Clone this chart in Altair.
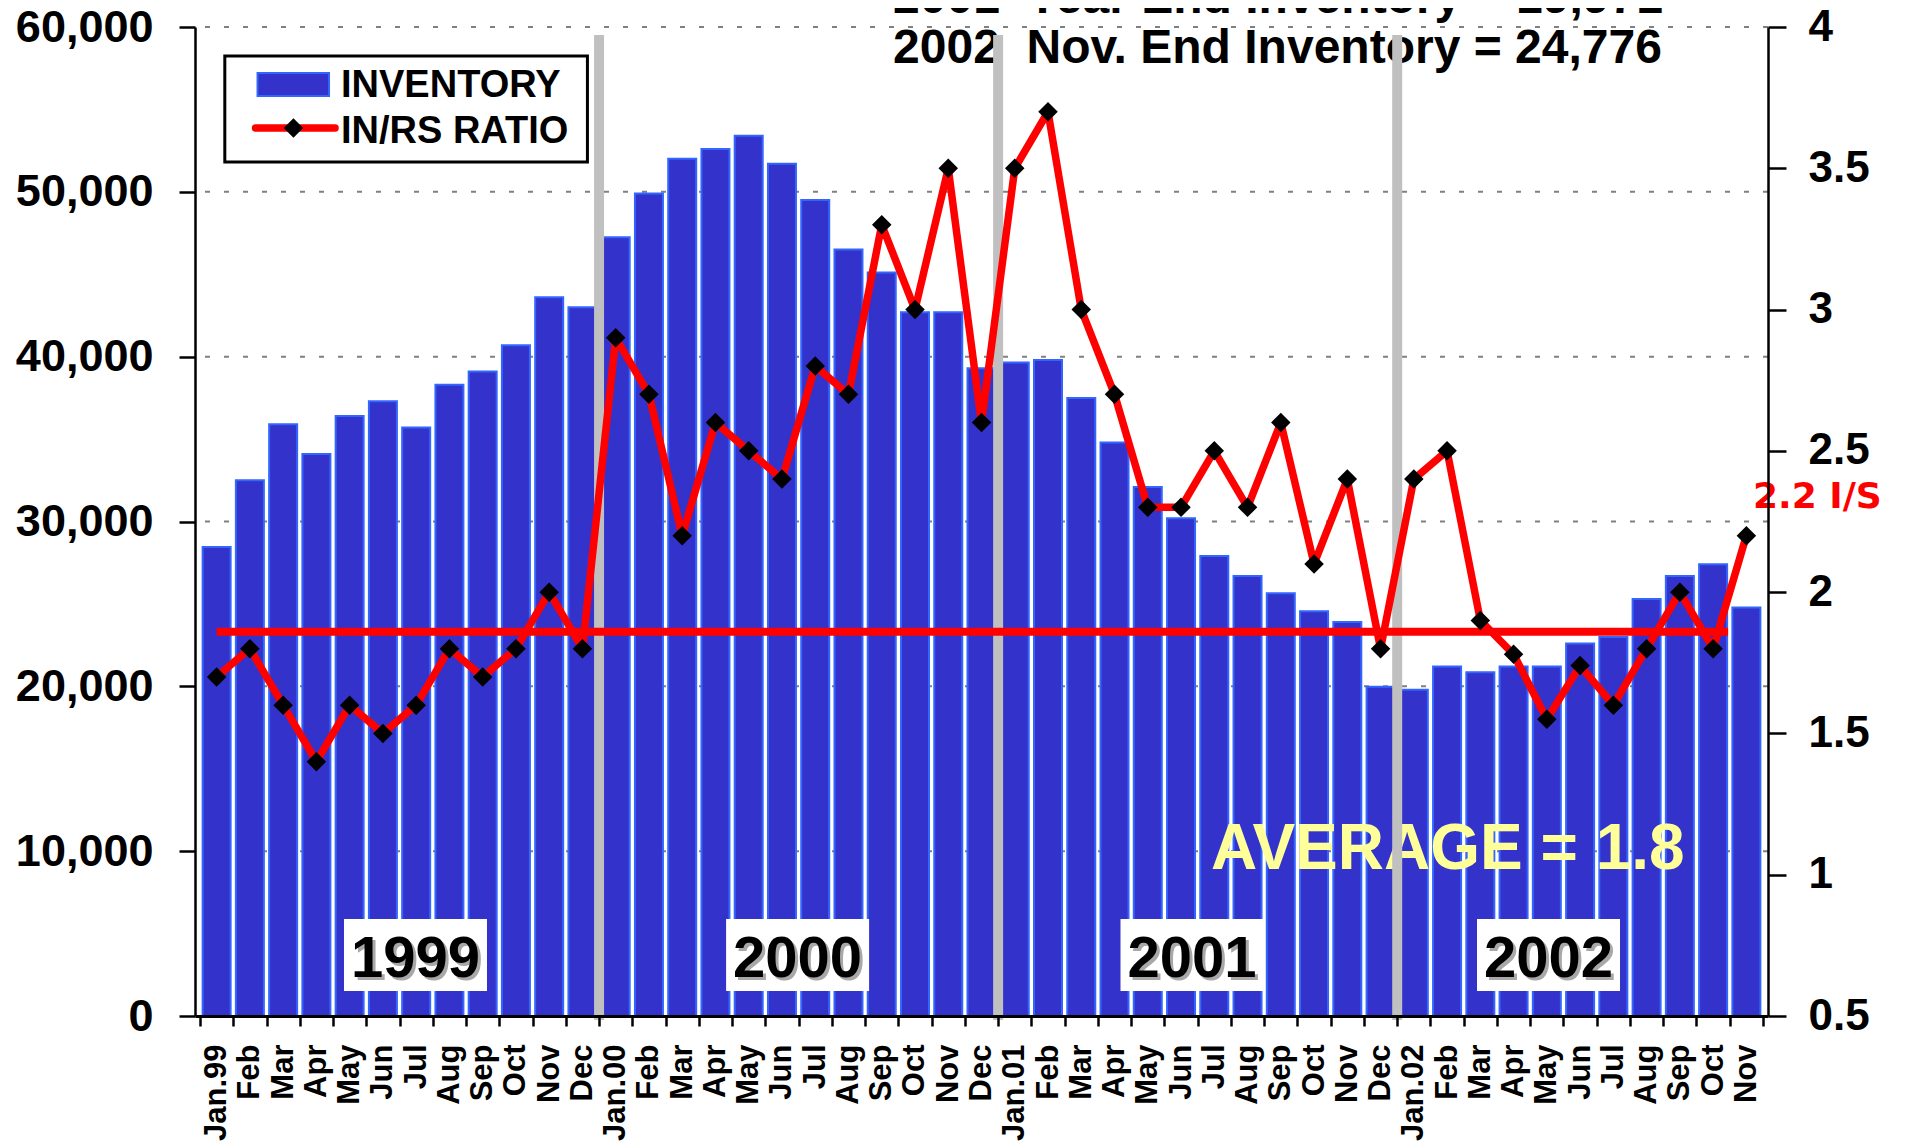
import json
import altair as alt
import pandas as pd

# ---------------- data ----------------
MONTHS = [
    "Jan.99", "Feb", "Mar", "Apr", "May", "Jun", "Jul", "Aug", "Sep", "Oct", "Nov", "Dec",
    "Jan.00", "Feb", "Mar", "Apr", "May", "Jun", "Jul", "Aug", "Sep", "Oct", "Nov", "Dec",
    "Jan.01", "Feb", "Mar", "Apr", "May", "Jun", "Jul", "Aug", "Sep", "Oct", "Nov", "Dec",
    "Jan.02", "Feb", "Mar", "Apr", "May", "Jun", "Jul", "Aug", "Sep", "Oct", "Nov",
]
INVENTORY = [
    28450, 32500, 35900, 34100, 36400, 37300, 35700, 38300, 39100, 40700, 43600, 43000,
    47250, 49900, 52000, 52600, 53400, 51700, 49500, 46500, 45100, 42700, 42700, 39300,
    39650, 39800, 37500, 34800, 32100, 30200, 27900, 26700, 25650, 24550, 23900, 19971,
    19800, 21200, 20850, 21200, 21200, 22600, 23000, 25300, 26700, 27400, 24776,
]
RATIO = [
    1.7, 1.8, 1.6, 1.4, 1.6, 1.5, 1.6, 1.8, 1.7, 1.8, 2.0, 1.8,
    2.9, 2.7, 2.2, 2.6, 2.5, 2.4, 2.8, 2.7, 3.3, 3.0, 3.5, 2.6,
    3.5, 3.7, 3.0, 2.7, 2.3, 2.3, 2.5, 2.3, 2.6, 2.1, 2.4, 1.8,
    2.4, 2.5, 1.9, 1.78, 1.55, 1.74, 1.6, 1.8, 2.0, 1.8, 2.2,
]
AVERAGE_RATIO = 1.86
YEARS = ["1999", "2000", "2001", "2002"]
YEAR_LABEL_CENTERS = [5.98, 17.47, 29.33, 40.05]
YEAR_BREAKS = [11.5, 23.5, 35.5]
INV_TICKS = [0, 10000, 20000, 30000, 40000, 50000, 60000]
RATIO_TICKS = [0.5, 1, 1.5, 2, 2.5, 3, 3.5, 4]
HEADLINES = ["2001\u00a0\u00a0Year End Inventory = 19,971",
             "2002\u00a0\u00a0Nov. End Inventory = 24,776"]
LEGEND_LABELS = ["INVENTORY", "IN/RS RATIO"]

FONT = "Liberation Sans"
BAR_FILL = "#3333CC"
BAR_EDGE = "#3366FF"
RED = "#FF0000"

df = pd.DataFrame({"idx": list(range(len(MONTHS))), "month": MONTHS,
                   "inventory": INVENTORY, "ratio": RATIO})

xscale = alt.Scale(domain=[-0.5, len(MONTHS) - 0.5], nice=False, zero=False)
yinv = alt.Scale(domain=[0, 60000], nice=False, zero=False)
yrat = alt.Scale(domain=[0.5, 4], nice=False, zero=False)

x_values = [i / 2 - 0.5 for i in range(2 * len(MONTHS) + 1)]
x_axis = alt.Axis(
    values=x_values,
    labelExpr="datum.value % 1 === 0 ? " + json.dumps(MONTHS) + "[datum.value] : ''",
    labelAngle=270, labelFont=FONT, labelFontSize=31, labelFontWeight="bold",
    labelColor="black", labelPadding=18, labelOverlap=False, labelFlush=False,
    labelBound=False,
    tickSize=10, tickWidth=2.5, tickColor="black",
    tickOpacity={"condition": {"test": "datum.value % 1 !== 0", "value": 1}, "value": 0},
    domainColor="black", domainWidth=3, grid=False, title=None, zindex=1,
)
left_axis = alt.Axis(
    values=INV_TICKS, format=",.0f", orient="left",
    labelFont=FONT, labelFontSize=45, labelFontWeight="bold", labelColor="black",
    labelPadding=26, labelFlush=False,
    tickSize=16, tickWidth=2.5, tickColor="black",
    domainColor="black", domainWidth=2.5, grid=False, title=None, zindex=1,
)
right_axis = alt.Axis(
    values=RATIO_TICKS, format="~g", orient="right",
    labelFont=FONT, labelFontSize=44, labelFontWeight="bold", labelColor="black",
    labelPadding=22, labelFlush=False,
    tickSize=18, tickWidth=2.5, tickColor="black",
    domainColor="black", domainWidth=2.5, grid=False, title=None, zindex=1,
)


def X(field):
    return alt.X(field, type="quantitative", scale=xscale, axis=x_axis)


def YI(field, axis=None):
    return alt.Y(field, type="quantitative", scale=yinv, axis=axis)


def YR(field, axis=None):
    return alt.Y(field, type="quantitative", scale=yrat, axis=axis)


# gridlines (dotted) at the inventory ticks
grid = alt.Chart(pd.DataFrame({"v": INV_TICKS[1:]})).mark_rule(
    color="#808080", strokeWidth=2, strokeDash=[5, 14]
).encode(y=YI("v"))

bars = alt.Chart(df).mark_bar(size=28, fill=BAR_FILL, stroke=BAR_EDGE, strokeWidth=2).encode(
    x=X("idx"), y=YI("inventory", left_axis)
)

avg_text = alt.Chart(pd.DataFrame({"x": [29.9], "y": [8918], "t": ["AVERAGE = 1.8"]})).mark_text(
    align="left", baseline="alphabetic", font=FONT, fontSize=64, fontWeight="bold", color="#FFFF99"
).encode(x=X("x"), y=YI("y"), text="t:N")

head_text = alt.Chart(pd.DataFrame({"x": [20.34, 20.34], "y": [60849, 57816], "t": HEADLINES})).mark_text(
    align="left", baseline="alphabetic", font=FONT, fontSize=48, fontWeight="bold", color="black"
).encode(x=X("x"), y=YI("y"), text="t:N")

breaks = alt.Chart(pd.DataFrame({"x": YEAR_BREAKS, "top": [59515] * 3, "bot": [-243] * 3})).mark_rule(
    color="#C0C0C0", strokeWidth=10
).encode(x=X("x"), y=YI("top"), y2="bot:Q")

avg_rule = alt.Chart(pd.DataFrame({"x": [0], "x2": [45.45], "y": [AVERAGE_RATIO]})).mark_rule(
    color=RED, strokeWidth=8
).encode(x=X("x"), x2="x2:Q", y=YR("y"))

line = alt.Chart(df).mark_line(color=RED, strokeWidth=7.5, strokeJoin="round").encode(
    x=X("idx"), y=YR("ratio", right_axis)
)
points = alt.Chart(df).mark_point(shape="diamond", filled=True, color="black", size=380, opacity=1).encode(
    x=X("idx"), y=YR("ratio")
)

# legend
leg_box = alt.Chart(pd.DataFrame({"x": [0.246], "x2": [11.15], "y": [51810], "y2": [58240]})).mark_rect(
    fill="white", stroke="black", strokeWidth=3
).encode(x=X("x"), x2="x2:Q", y=YI("y"), y2="y2:Q")
leg_swatch = alt.Chart(pd.DataFrame({"x": [1.23], "x2": [3.38], "y": [55815], "y2": [57210]})).mark_rect(
    fill=BAR_FILL, stroke=BAR_EDGE, strokeWidth=2
).encode(x=X("x"), x2="x2:Q", y=YI("y"), y2="y2:Q")
leg_line = alt.Chart(pd.DataFrame({"x": [1.17], "x2": [3.56], "y": [53873]})).mark_rule(
    color=RED, strokeWidth=7.5, strokeCap="round"
).encode(x=X("x"), x2="x2:Q", y=YI("y"))
leg_diamond = alt.Chart(pd.DataFrame({"x": [2.31], "y": [53873]})).mark_point(
    shape="diamond", filled=True, color="black", size=380, opacity=1
).encode(x=X("x"), y=YI("y"))
leg_text = alt.Chart(pd.DataFrame({"x": [3.74, 3.74], "y": [55754, 52963], "t": LEGEND_LABELS})).mark_text(
    align="left", baseline="alphabetic", font=FONT, fontSize=38, fontWeight="bold", color="black"
).encode(x=X("x"), y=YI("y"), text="t:N")

# year labels
ydf = pd.DataFrame({"c": YEAR_LABEL_CENTERS, "t": YEARS})
year_box = alt.Chart(ydf).transform_calculate(
    l="datum.c - 2.15", r="datum.c + 2.15", b="1517", tp="5885"
).mark_rect(fill="white").encode(x=X("l:Q"), x2="r:Q", y=YI("b:Q"), y2="tp:Q")
year_shadow = alt.Chart(ydf).transform_calculate(yy="2366").mark_text(
    align="center", baseline="alphabetic", font=FONT, fontSize=58, fontWeight="bold",
    color="#A8A8A8", dx=3, dy=3
).encode(x=X("c"), y=YI("yy:Q"), text="t:N")
year_text = alt.Chart(ydf).transform_calculate(yy="2366").mark_text(
    align="center", baseline="alphabetic", font=FONT, fontSize=58, fontWeight="bold", color="black"
).encode(x=X("c"), y=YI("yy:Q"), text="t:N")

is_text = alt.Chart(pd.DataFrame({"x": [46.2], "y": [30819], "t": ["2.2 I/S"]})).mark_text(
    align="left", baseline="alphabetic", font="DejaVu Sans", fontSize=36, fontWeight="bold", color=RED
).encode(x=X("x"), y=YI("y"), text="t:N")

chart = alt.layer(
    grid, bars, avg_text, head_text, breaks, avg_rule, line, points,
    leg_box, leg_swatch, leg_line, leg_diamond, leg_text,
    year_box, year_shadow, year_text, is_text,
).resolve_scale(y="independent").properties(
    width=1573, height=989,
    autosize=alt.AutoSizeParams(type="none"),
    padding={"left": 187, "top": 19, "right": 130, "bottom": 128},
    background="white",
).configure_view(stroke=None)

chart.save("out.html", embed_options={"renderer": "svg", "actions": False})
